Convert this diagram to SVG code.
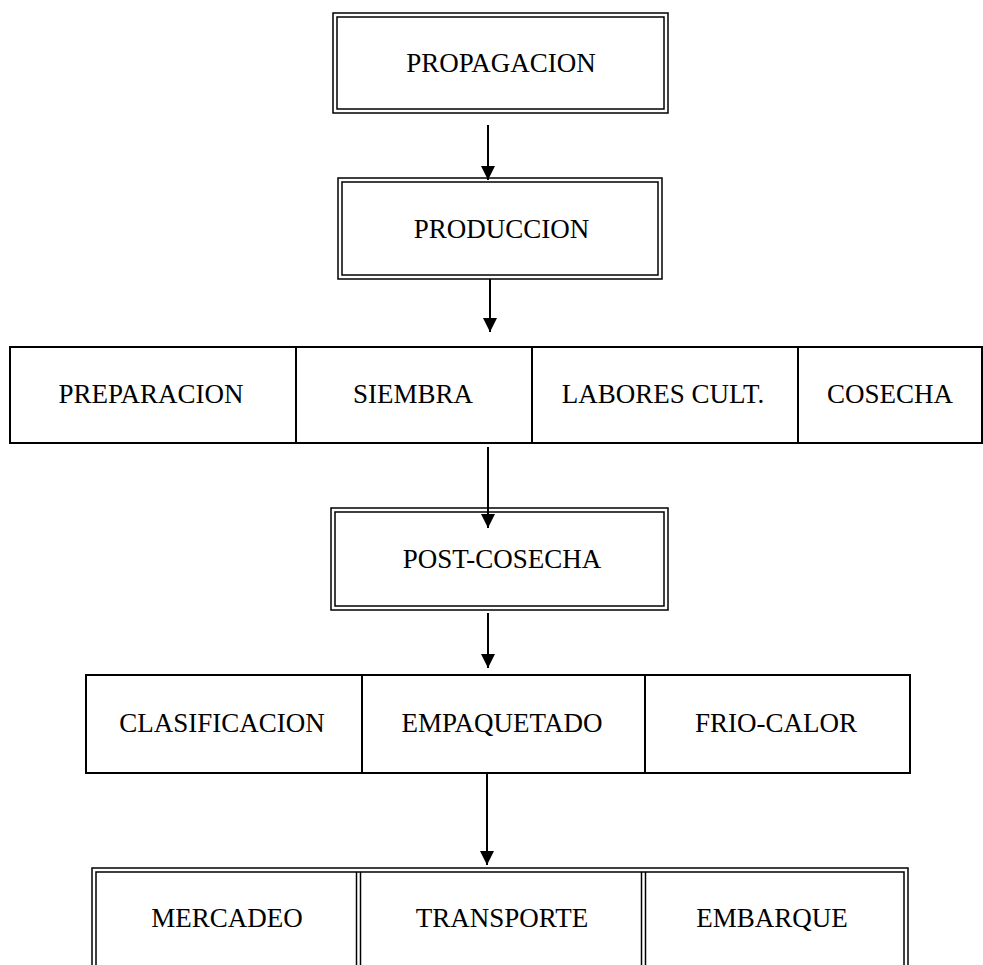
<svg xmlns="http://www.w3.org/2000/svg" width="983" height="965" viewBox="0 0 983 965">
<style>
  .bg{fill:#fff}
  .dbl{fill:none;stroke:#000;stroke-width:1.5}
  .sgl{fill:none;stroke:#000;stroke-width:2}
  .t{font-family:"Liberation Serif","Times New Roman",serif;font-size:27px;fill:#000;text-anchor:middle}
  .conn{stroke:#000;stroke-width:2;fill:none}
</style>
<defs>
  <marker id="arr" markerUnits="userSpaceOnUse" markerWidth="15" markerHeight="14" refX="14" refY="7" orient="auto" viewBox="0 0 15 14">
    <path d="M0,0 L14,7 L0,14 Z" fill="#000"/>
  </marker>
</defs>
<rect class="bg" x="0" y="0" width="983" height="965"/>

<g id="propagacion">
  <rect class="dbl" x="333" y="13" width="335" height="100"/>
  <rect class="dbl" x="337" y="17" width="327" height="92"/>
  <text class="t" x="501" y="72">PROPAGACION</text>
</g>

<g id="produccion">
  <rect class="dbl" x="338" y="178" width="324" height="101"/>
  <rect class="dbl" x="342" y="182" width="316" height="93"/>
  <text class="t" x="501.5" y="238">PRODUCCION</text>
</g>

<g id="fases-produccion">
  <rect class="sgl" x="10" y="347" width="972" height="96"/>
  <line class="sgl" x1="296" y1="347" x2="296" y2="443"/>
  <line class="sgl" x1="532" y1="347" x2="532" y2="443"/>
  <line class="sgl" x1="798" y1="347" x2="798" y2="443"/>
  <text class="t" x="151" y="403">PREPARACION</text>
  <text class="t" x="413" y="403">SIEMBRA</text>
  <text class="t" x="663" y="403">LABORES CULT.</text>
  <text class="t" x="890" y="403">COSECHA</text>
</g>

<g id="post-cosecha">
  <rect class="dbl" x="331" y="508" width="337" height="102"/>
  <rect class="dbl" x="335" y="512" width="329" height="94"/>
  <text class="t" x="502" y="568">POST-COSECHA</text>
</g>

<g id="fases-post-cosecha">
  <rect class="sgl" x="86" y="675" width="824" height="98"/>
  <line class="sgl" x1="362" y1="675" x2="362" y2="773"/>
  <line class="sgl" x1="645" y1="675" x2="645" y2="773"/>
  <text class="t" x="222" y="732">CLASIFICACION</text>
  <text class="t" x="502" y="732">EMPAQUETADO</text>
  <text class="t" x="776" y="732">FRIO-CALOR</text>
</g>

<g id="comercializacion">
  <rect class="dbl" x="92" y="868" width="816" height="140"/>
  <rect class="dbl" x="96" y="872" width="808" height="132"/>
  <line class="dbl" x1="356.5" y1="872" x2="356.5" y2="1004"/>
  <line class="dbl" x1="360.5" y1="872" x2="360.5" y2="1004"/>
  <line class="dbl" x1="641.5" y1="872" x2="641.5" y2="1004"/>
  <line class="dbl" x1="645.5" y1="872" x2="645.5" y2="1004"/>
  <text class="t" x="227" y="927">MERCADEO</text>
  <text class="t" x="502" y="927">TRANSPORTE</text>
  <text class="t" x="772" y="927">EMBARQUE</text>
</g>

<g id="connectors">
  <line class="conn" x1="488" y1="125" x2="488" y2="180" marker-end="url(#arr)"/>
  <line class="conn" x1="490" y1="279" x2="490" y2="332" marker-end="url(#arr)"/>
  <line class="conn" x1="488" y1="447" x2="488" y2="528" marker-end="url(#arr)"/>
  <line class="conn" x1="488" y1="613" x2="488" y2="668" marker-end="url(#arr)"/>
  <line class="conn" x1="487" y1="773" x2="487" y2="865" marker-end="url(#arr)"/>
</g>
</svg>
